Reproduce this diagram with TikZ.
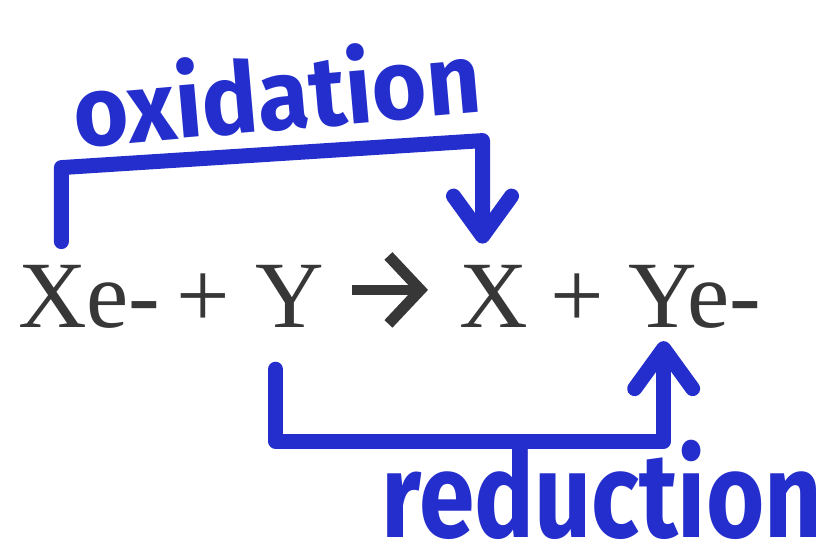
\documentclass[tikz,border=0pt]{standalone}
\usepackage{fontspec}
\setmainfont{Liberation Serif}
\newfontfamily\markerfont{Fira Sans}
\usepackage{xcolor}
\usepackage{tikz}
\usetikzlibrary{arrows.meta}
\definecolor{marker}{RGB}{36,46,204}
\definecolor{ink}{RGB}{55,55,55}

\begin{document}
\begin{tikzpicture}[x=1pt,y=-1pt,
      every node/.style={inner sep=0pt},
      eqn/.style={anchor=base west,text=ink,font=\fontsize{95}{100}\selectfont},
      hand/.style={anchor=base,text=marker,font=\markerfont\bfseries\fontsize{94}{100}\selectfont},
      bracket/.style={draw=marker,line width=15pt,line cap=round,line join=round},
      rxn/.style={draw=ink,line width=10pt,-{Straight Barb[length=32pt,width=68pt,line width=11pt]}},
      >={Straight Barb[round,length=40pt,width=58pt]}]
      \useasboundingbox (0,0) rectangle (837,556);
      % equation
      \node[eqn] (xe) at (18,327) {Xe-};
      \node[eqn] (p1) at (176,327) {+};
      \node[eqn] (y) at (255,327) {Y};
      \node[eqn] (x) at (459,327) {X};
      \node[eqn] (p2) at (550,327) {+};
      \node[eqn] (ye) at (628,327) {Ye-};
      \draw[rxn,shorten <=28pt,shorten >=31pt] ([yshift=6pt]y.east) -- ([yshift=6pt]x.west);
      % labels
      \node[hand,rotate=5,yscale=1.05] (ox) at (280,130) {oxidation};
      \node[hand,yscale=1.2,font=\markerfont\bfseries\fontsize{100}{100}\selectfont] (red) at (602,537) {reduction};
      % brackets
      \draw[bracket,->] ([xshift=-28pt,yshift=23pt]xe.north) -- ++(0,-74)
        -- ([xshift=-11pt,yshift=124pt]x.north) -- ([xshift=-11pt,yshift=21pt]x.north);
      \draw[bracket,->] ([xshift=-14pt,yshift=-42pt]y.south) |- ([xshift=-31pt,yshift=-113pt]ye.south)
        -- ([xshift=-31pt,yshift=-13pt]ye.south);
    \end{tikzpicture}
\end{document}
